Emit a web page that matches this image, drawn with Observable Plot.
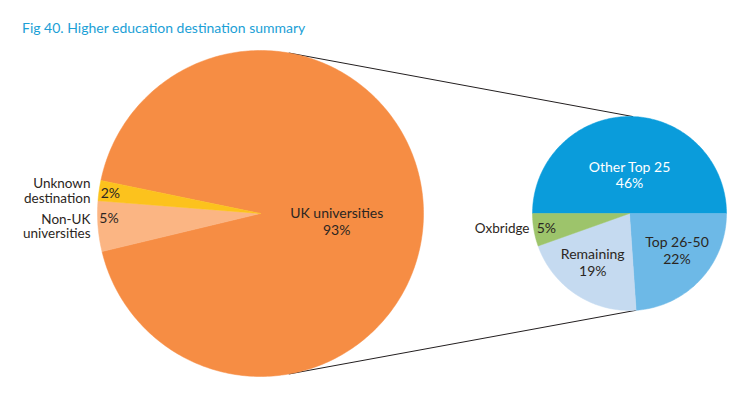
<!DOCTYPE html>
<html><head><meta charset="utf-8">
<script src="https://cdn.jsdelivr.net/npm/d3@7"></script>
<script src="https://cdn.jsdelivr.net/npm/@observablehq/plot@0.6"></script>
<style>
body{margin:0;background:#fff;font-family:Lato,"Open Sans",sans-serif;}
#title{height:40px;box-sizing:border-box;padding:20px 0 0 22px;color:#1ba0d6;font-size:14px;line-height:16px;white-space:nowrap;}
#chart svg{display:block;}
</style></head><body>
<div id="title">Fig 40. Higher education destination summary</div>
<div id="chart"></div>
<script>
// ---- data ----
const mainCategories = ["UK universities", "Non-UK universities", "Unknown destination"];
const mainValues = [93, 5, 2];
const subCategories = ["Other Top 25", "Top 26-50", "Remaining", "Oxbridge"];
const subValues = [46, 22, 19, 5];

// ---- styles ----
const mainColors = ["#f68d44", "#fbb583", "#fcc21d"];
const subColors = ["#0a9cdb", "#6db9e7", "#c5daf0", "#9dc46b"];

// ---- layout (pixel-space of the page) ----
const deg = Math.PI / 180;
const MAIN = {cx: 260, cy: 213, r: 163, start: -78.3 * deg};
const SUB = {cx: 629, cy: 213, r: 97, start: -90 * deg};

function pol(p, a, rr) { return [p.cx + rr * Math.sin(a), p.cy - rr * Math.cos(a)]; }

function slices(cats, vals, p) {
  const arcs = d3.pie().sort(null).startAngle(p.start).endAngle(p.start + 2 * Math.PI)(vals);
  return arcs.map((a, i) => ({cat: cats[i], value: vals[i], a0: a.startAngle, a1: a.endAngle, p}));
}
function polyPoints(sl) {
  const pts = [];
  for (const s of sl) {
    const [x0, y0] = [s.p.cx, s.p.cy];
    pts.push({cat: s.cat, x: x0, y: y0});
    const n = Math.max(8, Math.ceil((s.a1 - s.a0) / deg));
    for (let k = 0; k <= n; k++) {
      const a = s.a0 + (s.a1 - s.a0) * k / n;
      const [x, y] = pol(s.p, a, s.p.r);
      pts.push({cat: s.cat, x, y});
    }
    pts.push({cat: s.cat, x: x0, y: y0});
  }
  return pts;
}

const mainSlices = slices(mainCategories, mainValues, MAIN);
const subSlices = slices(subCategories, subValues, SUB);
const points = polyPoints(mainSlices).concat(polyPoints(subSlices));

// label placement: fraction through slice (t) and radius fraction (rf)
function labelAt(s, t, rf) {
  const a = s.a0 + (s.a1 - s.a0) * t;
  const [x, y] = pol(s.p, a, s.p.r * rf);
  return {x, y, a};
}
const pct = s => s.value + "%";

const inner = [];
const innerWhite = [];
const outside = [];
// main pie
{
  const [uk, non, unk] = mainSlices;
  inner.push({...labelAt(uk, 0.52, 0.47), text: uk.cat + "\n" + pct(uk)});
  inner.push({...labelAt(non, 0.66, 0.93), text: pct(non)});
  inner.push({...labelAt(unk, 0.5, 0.93), text: pct(unk)});
  for (const [s, name] of [[non, "Non-UK\nuniversities"], [unk, "Unknown\ndestination"]]) {
    const m = labelAt(s, 0.5, 1);
    outside.push({x: MAIN.cx - MAIN.r - 7, y: m.y, text: name});
  }
}
// sub pie
{
  const [top25, top50, rem, ox] = subSlices;
  innerWhite.push({...labelAt(top25, 0.5, 0.4), text: top25.cat + "\n" + pct(top25)});
  inner.push({...labelAt(top50, 0.44, 0.62), text: top50.cat + "\n" + pct(top50)});
  inner.push({...labelAt(rem, 0.55, 0.63), text: rem.cat + "\n" + pct(rem)});
  const o = labelAt(ox, 0.5, 0.87);
  inner.push({...o, text: pct(ox)});
  outside.push({x: SUB.cx - SUB.r - 3, y: o.y, text: ox.cat});
}

// connector lines from main pie to sub pie
const links = [
  (() => { const [x1, y1] = pol(MAIN, 10 * deg, MAIN.r); const [x2, y2] = pol(SUB, 2 * deg, SUB.r); return {x1, y1, x2, y2}; })(),
  (() => { const [x1, y1] = pol(MAIN, 170 * deg, MAIN.r); const [x2, y2] = pol(SUB, 176 * deg, SUB.r); return {x1, y1, x2, y2}; })()
];

const chart = Plot.plot({
  width: 737,
  height: 356,
  margin: 0,
  style: {fontFamily: "Lato, 'Open Sans', sans-serif", background: "#fff"},
  x: {domain: [0, 737], range: [0, 737], axis: null},
  y: {domain: [40, 396], range: [0, 356], axis: null},
  color: {domain: mainCategories.concat(subCategories), range: mainColors.concat(subColors)},
  marks: [
    Plot.link(links, {x1: "x1", y1: "y1", x2: "x2", y2: "y2", stroke: "#231f20", strokeWidth: 1}),
    Plot.line(points, {x: "x", y: "y", z: "cat", fill: "cat", stroke: "cat", strokeWidth: 0.5, curve: "linear"}),
    Plot.text(inner, {x: "x", y: "y", text: "text", fill: "#2b2622", fontSize: 14, lineHeight: 1.2}),
    Plot.text(innerWhite, {x: "x", y: "y", text: "text", fill: "#ffffff", fontSize: 14, lineHeight: 1.2}),
    Plot.text(outside, {x: "x", y: "y", text: "text", fill: "#2b2622", fontSize: 13.5, lineHeight: 1.1, textAnchor: "end"})
  ]
});
document.getElementById("chart").appendChild(chart);
</script>
</body></html>
